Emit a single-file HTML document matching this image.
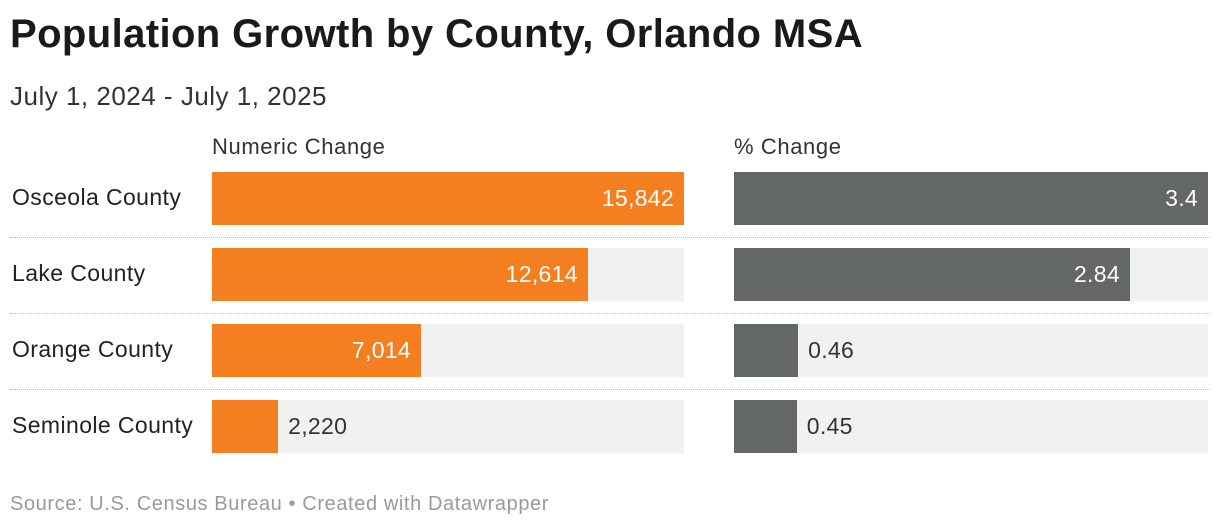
<!DOCTYPE html>
<html><head><meta charset="utf-8"><style>
body{margin:0;width:1220px;height:530px;background:#fff;font-family:"Liberation Sans",sans-serif;overflow:hidden;position:relative}
.t{position:absolute;white-space:nowrap}
</style></head><body>
<div class="t" style="left:10px;top:12px;font-size:40px;letter-spacing:0.4px;font-weight:bold;color:#1a1a1a">Population Growth by County, Orlando MSA</div>
<div class="t" style="left:10px;top:81px;font-size:26px;letter-spacing:0.5px;color:#333">July 1, 2024 - July 1, 2025</div>
<div class="t" style="left:212px;top:134px;font-size:22px;letter-spacing:0.6px;color:#333">Numeric Change</div>
<div class="t" style="left:734px;top:134px;font-size:22px;letter-spacing:0.6px;color:#333">% Change</div>
<div id="chart"></div>
<div class="t" style="left:10px;top:493px;font-size:20px;letter-spacing:0.6px;color:#9a9a9a">Source: U.S. Census Bureau • Created with Datawrapper</div>
<script>
const counties=["Osceola County","Lake County","Orange County","Seminole County"];
const numericValues=[15842,12614,7014,2220];
const numericLabels=["15,842","12,614","7,014","2,220"];
const pctValues=[3.4,2.84,0.46,0.45];
const pctLabels=["3.4","2.84","0.46","0.45"];
const c=document.getElementById('chart');
const top0=172,step=76,h=53;
function mk(css,text){const d=document.createElement('div');d.className='t';d.style.cssText=css;if(text!==undefined)d.textContent=text;c.appendChild(d);return d;}
function bars(vals,labels,x0,w,color,name){
  const max=Math.max(...vals);
  vals.forEach((v,i)=>{
    const y=top0+i*step;
    const bg=mk(`left:${x0}px;top:${y}px;width:${w}px;height:${h}px;background:#f1f1f1`);
    
    
    const bw=v/max*w;
    const b=mk(`left:${x0}px;top:${y}px;width:${bw}px;height:${h}px;background:${color}`);
    
    
    const inside=bw>110;
    const l=inside?mk(`left:${x0}px;width:${bw-10}px;text-align:right;top:${y+13}px;font-size:23px;letter-spacing:0.3px;color:#fff`,labels[i])
      :mk(`left:${x0+bw+10}px;top:${y+13}px;font-size:23px;letter-spacing:0.3px;color:#333`,labels[i]);
    
    
  });
}
counties.forEach((n,i)=>{
  const y=top0+i*step;
  const l=mk(`left:12px;top:${y+12}px;font-size:23px;letter-spacing:0.4px;color:#222`,n);
  
  
  if(i>0){const s=mk(`left:10px;top:${y-11}px;width:1200px;height:0;border-top:1px dotted #bbb`);
    
    }
});
bars(numericValues,numericLabels,212,472,'#f47f20','numeric-change');
bars(pctValues,pctLabels,734,474,'#636767','percent-change');
</script>
</body></html>
